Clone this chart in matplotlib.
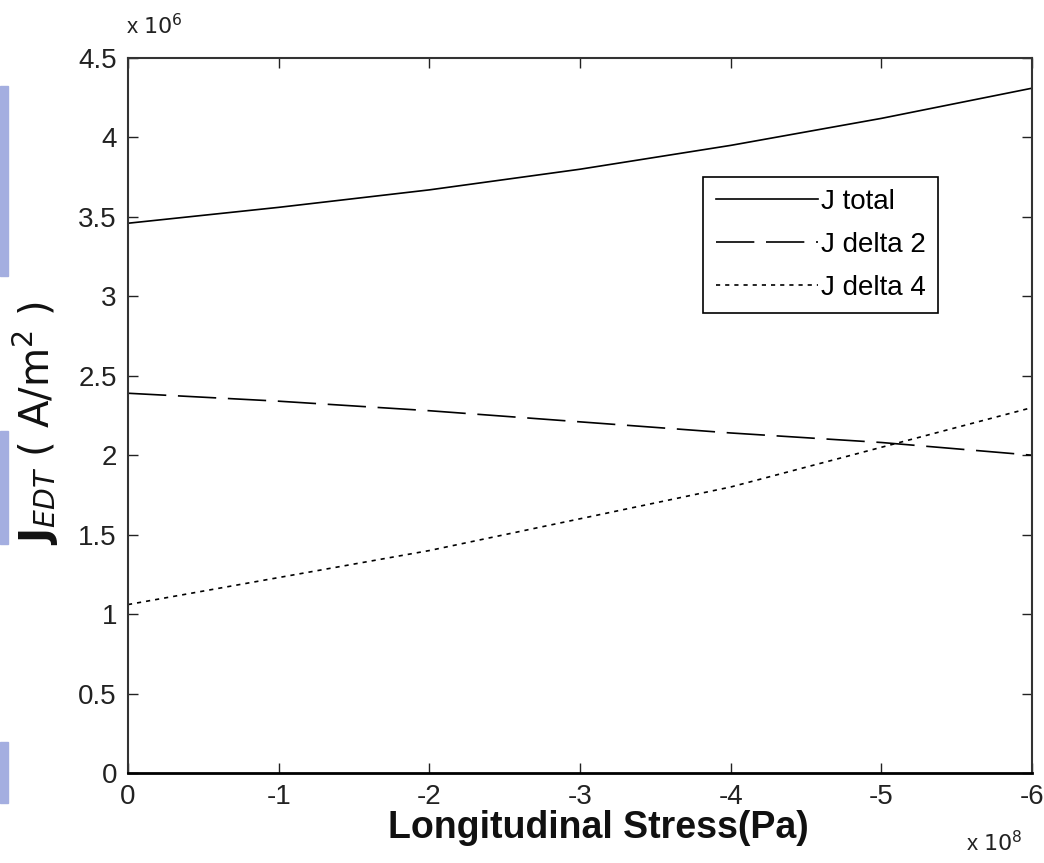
import matplotlib
matplotlib.use("Agg")
import matplotlib.pyplot as plt
from matplotlib.patches import Rectangle

# values (x in 1e8 Pa, y in 1e6 A/m^2)
stress = [0, -1, -2, -3, -4, -5, -6]
j_total = [3.46, 3.56, 3.67, 3.80, 3.95, 4.12, 4.31]
j_delta2 = [2.39, 2.34, 2.28, 2.21, 2.14, 2.08, 2.00]
j_delta4 = [1.06, 1.23, 1.40, 1.60, 1.80, 2.05, 2.30]

x_ticks = [0, -1, -2, -3, -4, -5, -6]
y_ticks = [0, 0.5, 1, 1.5, 2, 2.5, 3, 3.5, 4, 4.5]
y_tick_labels = ['0', '0.5', '1', '1.5', '2', '2.5', '3', '3.5', '4', '4.5']


def main():
    plt.rcParams['font.family'] = ['Liberation Sans', 'DejaVu Sans']
    fig = plt.figure(figsize=(10.44, 8.63), dpi=100)
    ax = fig.add_axes([0.1226, 0.1043, 0.866, 0.8285])

    # slide background bits at the left edge
    for y0, h in [(0.68, 0.22), (0.37, 0.13), (0.07, 0.07)]:
        fig.patches.append(Rectangle((0, y0), 0.008, h, transform=fig.transFigure,
                                     color='#a4aee0', zorder=0))

    ax.plot(stress, j_total, color='black', lw=1.2, label='J total')
    ax.plot(stress, j_delta2, color='black', lw=1.2, dashes=(23, 7), label='J delta 2')
    ax.plot(stress, j_delta4, color='black', lw=1.2, dashes=(2.5, 3), label='J delta 4')

    ax.set_xlim(0, -6)
    ax.set_ylim(0, 4.5)
    ax.set_xticks(x_ticks)
    ax.set_xticklabels([str(t) for t in x_ticks])
    ax.set_yticks(y_ticks)
    ax.set_yticklabels(y_tick_labels)
    ax.tick_params(direction='in', top=True, right=True, length=7, width=1,
                   labelsize=20, pad=8, colors='#222222')
    for s in ax.spines.values():
        s.set_linewidth(1.5)
        s.set_color('#333333')
    ax.spines['bottom'].set_color('black')
    ax.spines['bottom'].set_linewidth(2)

    ax.set_xlabel('Longitudinal Stress(Pa)', fontsize=27, fontweight='bold', color='#111111')
    ax.xaxis.set_label_coords(0.52, -0.052)
    ax.set_ylabel(r'$\mathbf{J}_{EDT}\ (\ \mathsf{A/m^2}\ )$', fontsize=29, color='#111111')
    ax.yaxis.set_label_coords(-0.074, 0.49)

    fig.text(0.121, 0.955, r'x $10^6$', fontsize=16, ha='left', va='bottom', color='#222222')
    fig.text(0.925, 0.008, r'x $10^8$', fontsize=16, ha='left', va='bottom', color='#222222')

    leg = ax.legend(loc='upper left', bbox_to_anchor=(0.636, 0.834), fontsize=20,
                    handlelength=3.7, handletextpad=0.1, borderpad=0.45,
                    labelspacing=0.6, fancybox=False, framealpha=1, edgecolor='black',
                    borderaxespad=0)
    leg.get_frame().set_linewidth(1.2)

    fig.savefig('out.png', dpi=100)


if __name__ == "__main__":
    main()
